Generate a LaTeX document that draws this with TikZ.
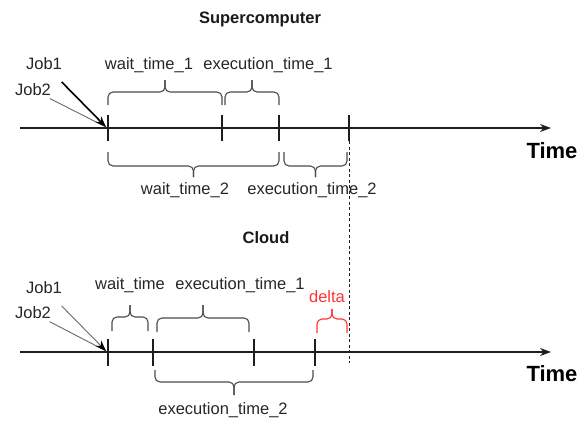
\documentclass[tikz,border=0pt]{standalone}
\usepackage{fontspec}
\setmainfont{Liberation Sans}
\usetikzlibrary{arrows.meta}

\definecolor{linegray}{RGB}{30,30,30}
\definecolor{bracegray}{RGB}{75,75,75}
\definecolor{thingray}{RGB}{105,105,105}
\definecolor{deltared}{RGB}{255,51,51}

% curly bracket: [style] x1, x2, y of the ends, y of the bar, y of the tip
\newcommand{\curly}[6][]{%
  \draw[curlybrace,#1] (#2,#4) -- (#2,#5) -- ({(#2+#3)/2},#5) -- ({(#2+#3)/2},#6);
  \draw[curlybrace,#1] (#3,#4) -- (#3,#5) -- ({(#2+#3)/2},#5) -- ({(#2+#3)/2},#6);
}

\begin{document}
\begin{tikzpicture}[x=1pt,y=-1pt,
  timeaxis/.style={linegray, line width=1.2pt, -{Stealth[length=11pt,width=8pt]}},
  tickmark/.style={linegray, line width=1.2pt},
  curlybrace/.style={bracegray, line width=1.1pt, rounded corners=5pt},
  lbl/.style={text=black!85, font=\fontsize{16.5}{19}\selectfont, inner sep=1pt},
  ttl/.style={text=black!90, font=\bfseries\fontsize{16.5}{19}\selectfont},
  timelbl/.style={text=black, font=\bfseries\fontsize{22}{26}\selectfont},
  jobline/.style={thingray, line width=0.9pt, shorten <=3pt},
  jobhead/.style={-{Stealth[length=11pt,width=8pt,black]}}]
\useasboundingbox (0,0) rectangle (579,421);

% Supercomputer
\node[ttl] (supertitle) at (260,19) {Supercomputer};
\coordinate (sstart) at (20,128);
\coordinate (send) at (551,128);
\draw[timeaxis] (sstart) -- (send);
\node[timelbl] (stime) at (552,151) {Time};
\foreach \x in {108,222,279,349}
  \draw[tickmark] (\x,115) -- (\x,141);

\node[lbl] (sjob1) at (44,64) {Job1};
\node[lbl] (sjob2) at (33,90) {Job2};
\coordinate (shit) at (106,127);
\draw[jobline] (sjob2) -- (shit);
\draw[jobline, black, line width=1.6pt, jobhead, shorten <=15pt] (sjob1) -- (shit);

\curly{108}{222}{105}{92}{80}
\curly{225}{279}{105}{92}{80}
\curly{108}{279}{152}{166}{177}
\curly{284}{347}{152}{166}{177}
\node[lbl] (swait1) at (149,65) {wait\_time\_1};
\node[lbl] (sexec1) at (268,65) {execution\_time\_1};
\node[lbl] (swait2) at (185,190) {wait\_time\_2};
\node[lbl] (sexec2) at (312,190) {execution\_time\_2};

% finish line
\draw[linegray, line width=0.9pt, dash pattern=on 3pt off 2.5pt] (349,141) -- (349,363);

% Cloud
\node[ttl] (cloudtitle) at (266,238) {Cloud};
\coordinate (cstart) at (20,352);
\coordinate (cend) at (551,352);
\draw[timeaxis] (cstart) -- (cend);
\node[timelbl] (ctime) at (552,374) {Time};
\foreach \x in {108,153,254,315}
  \draw[tickmark] (\x,339) -- (\x,366);

\node[lbl] (cjob1) at (44,288) {Job1};
\node[lbl] (cjob2) at (33,313) {Job2};
\coordinate (chit) at (106,351);
\draw[jobline] (cjob2) -- (chit);
\draw[jobline, jobhead, shorten <=15pt] (cjob1) -- (chit);

\curly{112}{148}{331}{317}{305}
\curly{157}{249}{332}{318}{305}
\curly[deltared]{317}{347}{333}{319}{309}
\curly{155}{313}{370}{382}{395}
\node[lbl] (cwait) at (130,285) {wait\_time};
\node[lbl] (cexec1) at (240,285) {execution\_time\_1};
\node[lbl, text=deltared] (cdelta) at (327,297) {delta};
\node[lbl] (cexec2) at (223,410) {execution\_time\_2};
\end{tikzpicture}
\end{document}
